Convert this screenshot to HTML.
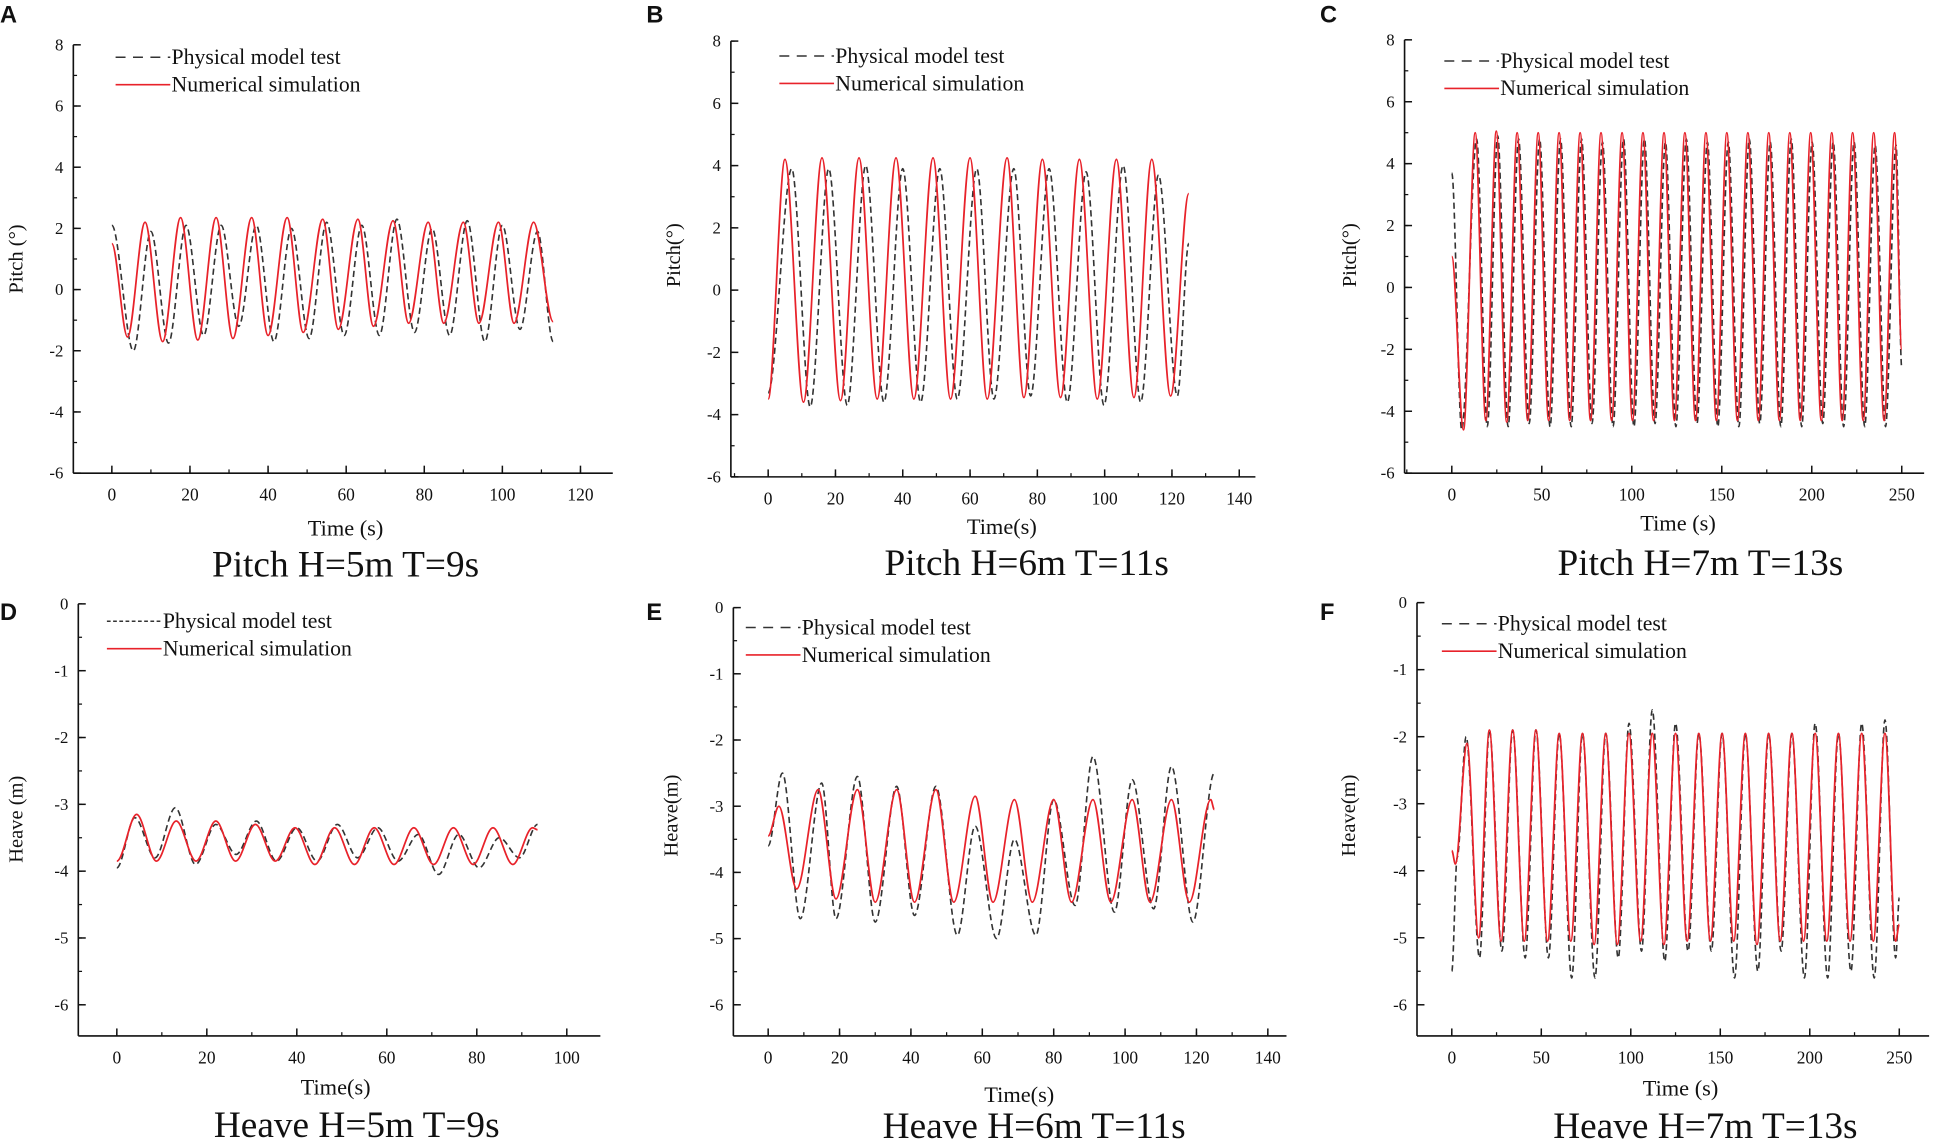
<!DOCTYPE html>
<html><head><meta charset="utf-8"><style>
html,body{margin:0;padding:0;background:#fff;}
svg{display:block;}
text{font-family:"Liberation Serif",serif;fill:#111;}
.lt{font-family:"Liberation Sans",sans-serif;font-weight:bold;}
</style></head>
<body>
<svg id="fig" width="1949" height="1143" viewBox="0 0 1568 918" preserveAspectRatio="none" xmlns="http://www.w3.org/2000/svg"></svg>
<script>
// ---- data arrays (time s, value) of curve extrema ----
const aRedT=[0,4,8.5,13,17.6,22,26.7,31,35.8,40,44.9,49,54,58,63,67,72,76,81,85,90,94,99,103,108,113];
const aRedV=[1.5,-1.55,2.2,-1.7,2.35,-1.65,2.35,-1.6,2.35,-1.5,2.35,-1.4,2.3,-1.3,2.3,-1.2,2.25,-1.1,2.2,-1.1,2.2,-1.1,2.2,-1.1,2.2,-1.05];
const aBlkT=[0,5.5,10,14.5,19,23.5,28,32.5,37,41.5,46,50.5,55,59.5,64,68.5,73,77.5,82,86.5,91,95.5,100,104.5,109,113];
const aBlkV=[2.1,-2.0,1.9,-1.75,2.1,-1.5,2.1,-1.2,2.1,-1.7,2.0,-1.6,2.2,-1.5,2.1,-1.5,2.3,-1.4,2.0,-1.5,2.25,-1.7,2.1,-1.3,1.9,-1.7];

const bRedT=[0,5,10.5,16,21.5,27,32.4,38,43.3,49,54.2,60,65.1,71,76,81.5,86.9,92.5,97.8,103.5,108.7,114,119.6,125];
const bRedV=[-3.5,4.2,-3.6,4.25,-3.55,4.25,-3.5,4.25,-3.5,4.25,-3.5,4.25,-3.5,4.25,-3.45,4.2,-3.45,4.2,-3.5,4.2,-3.45,4.2,-3.4,3.1];
const bBlkT=[0,7,12.5,18,23.5,29,34.4,40,45.3,51,56.2,62,67.1,73,78,83.5,88.9,94.5,99.8,105.5,110.7,116,121.6,125];
const bBlkV=[-3.3,3.9,-3.75,3.9,-3.7,4.0,-3.6,3.9,-3.6,3.9,-3.5,3.9,-3.5,3.9,-3.4,3.9,-3.6,3.8,-3.7,4.0,-3.6,3.7,-3.4,1.5];

const cRedT=[0,6.5,13,18.9,24.7,30.5,36.3,42.2,48,53.8,59.6,65.5,71.3,77.1,82.9,88.8,94.6,100.4,106.2,112.1,117.9,123.7,129.5,135.4,141.2,147,152.8,158.7,164.5,170.3,176.1,182,187.8,193.6,199.4,205.3,211.1,216.9,222.7,228.6,234.4,240.2,246,250];
const cRedV=[1.0,-4.6,5.0,-4.3,5.05,-4.35,5.0,-4.3,5.0,-4.3,5.0,-4.3,5.0,-4.3,5.0,-4.3,5.0,-4.3,5.0,-4.3,5.0,-4.3,5.0,-4.3,5.0,-4.3,5.0,-4.3,5.0,-4.3,5.0,-4.3,5.0,-4.3,5.0,-4.3,5.0,-4.3,5.0,-4.3,5.0,-4.3,5.0,-2.0];
const cBlkT=[0,5.5,13.8,19.7,25.5,31.3,37.1,43,48.8,54.6,60.4,66.3,72.1,77.9,83.7,89.6,95.4,101.2,107,112.9,118.7,124.5,130.3,136.2,142,147.8,153.6,159.5,165.3,171.1,176.9,182.8,188.6,194.4,200.2,206.1,211.9,217.7,223.5,229.4,235.2,241,246.8,250];
const cBlkV=[3.7,-4.6,4.8,-4.5,4.9,-4.5,4.8,-4.4,4.8,-4.5,4.8,-4.5,4.8,-4.4,4.7,-4.5,4.8,-4.5,4.8,-4.4,4.7,-4.5,4.8,-4.4,4.7,-4.5,4.7,-4.5,4.8,-4.4,4.7,-4.5,4.8,-4.5,4.7,-4.4,4.7,-4.5,4.7,-4.5,4.6,-4.5,4.6,-2.6];

const dRedT=[0,4.4,8.8,13.2,17.6,22,26.4,30.8,35.2,39.6,44,48.4,52.8,57.2,61.6,66,70.4,74.8,79.2,83.6,88,92.4,93.5];
const dRedV=[-3.85,-3.15,-3.85,-3.25,-3.85,-3.25,-3.85,-3.3,-3.85,-3.35,-3.9,-3.35,-3.9,-3.35,-3.9,-3.35,-3.9,-3.35,-3.9,-3.35,-3.9,-3.35,-3.38];
const dBlkT=[0,4,8.5,13,17.5,22,26.5,31,35.5,40,44.5,49,53.5,58,62.5,67,71.5,76,80.5,85,89.5,93.5];
const dBlkV=[-3.95,-3.2,-3.8,-3.05,-3.9,-3.3,-3.75,-3.25,-3.85,-3.35,-3.85,-3.3,-3.8,-3.35,-3.85,-3.45,-4.05,-3.45,-3.95,-3.5,-3.8,-3.3];

const eRedT=[0,3,8,14,19,25,30,36,41,47,52,58,63,69,74,80,85,91,96,102,107,113,118,124,125];
const eRedV=[-3.45,-3.0,-4.25,-2.75,-4.4,-2.75,-4.45,-2.75,-4.45,-2.75,-4.45,-2.85,-4.45,-2.9,-4.45,-2.9,-4.45,-2.9,-4.45,-2.9,-4.45,-2.9,-4.45,-2.9,-3.05];
const eBlkT=[0,4,9,15,19,25,30,36,41,47,53,58,64,69,75,80,86,91,97,102,108,113,119,125];
const eBlkV=[-3.6,-2.5,-4.7,-2.65,-4.7,-2.55,-4.75,-2.7,-4.65,-2.7,-4.95,-3.3,-5.0,-3.5,-4.95,-2.9,-4.5,-2.25,-4.6,-2.6,-4.55,-2.4,-4.75,-2.5];

const fRedT=[0,2,8.5,15,21,27.5,34,40.5,47,53.5,60,66.5,73,79.5,86,92.5,99,105.5,112,118.5,125,131.5,138,144.5,151,157.5,164,170.5,177,183.5,190,196.5,203,209.5,216,222.5,229,235.5,242,248,250];
const fRedV=[-3.7,-3.9,-2.1,-5.0,-1.9,-5.05,-1.9,-5.05,-1.9,-5.05,-1.95,-5.05,-1.95,-5.1,-1.95,-5.1,-1.95,-5.05,-1.95,-5.1,-1.95,-5.05,-1.95,-5.05,-1.95,-5.05,-1.95,-5.1,-1.95,-5.05,-1.95,-5.05,-1.95,-5.05,-1.95,-5.05,-1.95,-5.05,-1.95,-5.05,-4.8];
const fBlkT=[0,3,8,15.5,21,28,34,41,47,54,60,67,73,80,86,93,99,106,112,119,125,132,138,145,151,158,164,171,177,184,190,197,203,210,216,223,229,236,242,248,250];
const fBlkV=[-5.5,-3.8,-2.0,-5.3,-1.9,-5.2,-1.9,-5.3,-1.9,-5.3,-1.95,-5.6,-1.95,-5.6,-1.95,-5.3,-1.8,-5.2,-1.6,-5.35,-1.8,-5.2,-1.95,-5.2,-1.95,-5.6,-1.95,-5.5,-1.95,-5.2,-1.95,-5.6,-1.8,-5.6,-1.95,-5.5,-1.8,-5.6,-1.75,-5.3,-4.4];

// x tick label arrays
const xTicks120=[0,20,40,60,80,100,120];
const xTicks140=[0,20,40,60,80,100,120,140];
const xTicks100=[0,20,40,60,80,100];
const xTicks250=[0,50,100,150,200,250];
const yTicksPitch=[8,6,4,2,0,-2,-4,-6];
const yTicksHeave=[0,-1,-2,-3,-4,-5,-6];

const panels=[
 {id:'a',letter:'A',lx:0,ly:18,ax:59,x0px:90,x1px:467,x1v:120,xr:493,xMinor:10,xt:xTicks120,yTop:36,yBot:380,yMax:8,yMin:-6,axBot:380,yt:yTicksPitch,yMinor:1,
  ylab:'Pitch (°)',ylx:18,yly:208,xlab:'Time (s)',xlx:278,xly:430,title:'Pitch H=5m T=9s',tx:278,ty:463,legX:93,legY:46,legDash:'8,6',
  red:[aRedT,aRedV],blk:[aBlkT,aBlkV]},
 {id:'b',letter:'B',lx:520,ly:18,ax:588,x0px:618,x1px:997,x1v:140,xr:1010,xMinor:10,xt:xTicks140,yTop:33,yBot:383,yMax:8,yMin:-6,axBot:383,yt:yTicksPitch,yMinor:1,
  ylab:'Pitch(°)',ylx:547,yly:205,xlab:'Time(s)',xlx:806,xly:429,title:'Pitch H=6m T=11s',tx:826,ty:462,legX:627,legY:45,legDash:'8,6',
  red:[bRedT,bRedV],blk:[bBlkT,bBlkV]},
 {id:'c',letter:'C',lx:1062,ly:18,ax:1130,x0px:1168,x1px:1530,x1v:250,xr:1548,xMinor:25,xt:xTicks250,yTop:32,yBot:380,yMax:8,yMin:-6,axBot:380,yt:yTicksPitch,yMinor:1,
  ylab:'Pitch(°)',ylx:1091,yly:205,xlab:'Time (s)',xlx:1350,xly:426,title:'Pitch H=7m T=13s',tx:1368,ty:462,legX:1162,legY:49,legDash:'8,6',
  red:[cRedT,cRedV],blk:[cBlkT,cBlkV]},
 {id:'d',letter:'D',lx:0,ly:498,ax:63,x0px:94,x1px:456,x1v:100,xr:483,xMinor:10,xt:xTicks100,yTop:485,yBot:807,yMax:0,yMin:-6,axBot:832,yt:yTicksHeave,yMinor:0.5,
  ylab:'Heave (m)',ylx:18,yly:658,xlab:'Time(s)',xlx:270,xly:879,title:'Heave H=5m T=9s',tx:287,ty:913,legX:86,legY:499,legDash:'3,2',
  red:[dRedT,dRedV],blk:[dBlkT,dBlkV]},
 {id:'e',letter:'E',lx:520,ly:498,ax:590,x0px:618,x1px:1020,x1v:140,xr:1035,xMinor:10,xt:xTicks140,yTop:488,yBot:807,yMax:0,yMin:-6,axBot:832,yt:yTicksHeave,yMinor:0.5,
  ylab:'Heave(m)',ylx:545,yly:655,xlab:'Time(s)',xlx:820,xly:885,title:'Heave H=6m T=11s',tx:832,ty:914,legX:600,legY:504,legDash:'8,6',
  red:[eRedT,eRedV],blk:[eBlkT,eBlkV]},
 {id:'f',letter:'F',lx:1062,ly:498,ax:1140,x0px:1168,x1px:1528,x1v:250,xr:1552,xMinor:25,xt:xTicks250,yTop:484,yBot:807,yMax:0,yMin:-6,axBot:832,yt:yTicksHeave,yMinor:0.5,
  ylab:'Heave(m)',ylx:1090,yly:655,xlab:'Time (s)',xlx:1352,xly:880,title:'Heave H=7m T=13s',tx:1372,ty:914,legX:1160,legY:501,legDash:'8,6',
  red:[fRedT,fRedV],blk:[fBlkT,fBlkV]}
];

const NS='http://www.w3.org/2000/svg';
const svg=document.getElementById('fig');
function mk(tag,attrs,parent){const e=document.createElementNS(NS,tag);for(const k in attrs)e.setAttribute(k,attrs[k]);(parent||svg).appendChild(e);return e;}

panels.forEach(p=>{
  const g=mk('g',{});
  
  
  const xs=v=>p.x0px+(p.x1px-p.x0px)*v/p.x1v;
  const ys=v=>p.yTop+(p.yBot-p.yTop)*(p.yMax-v)/(p.yMax-p.yMin);
  const xMinV=(p.ax-p.x0px)/(p.x1px-p.x0px)*p.x1v, xMaxV=(p.xr-p.x0px)/(p.x1px-p.x0px)*p.x1v;
  const letter=mk('text',{x:p.lx,y:p.ly,'font-size':19,class:'lt'},g);letter.textContent=p.letter;
  
  
  const yAxis=mk('line',{x1:p.ax,y1:p.yTop,x2:p.ax,y2:p.axBot,stroke:'#111','stroke-width':1.3},g);
  
  
  const xAxis=mk('line',{x1:p.ax,y1:p.axBot,x2:p.xr,y2:p.axBot,stroke:'#111','stroke-width':1.3},g);
  
  
  for(let v=p.yMin;v<=p.yMax+1e-9;v+=p.yMinor){mk('line',{x1:p.ax,x2:p.ax+3,y1:ys(v),y2:ys(v),stroke:'#111','stroke-width':1},g);}
  p.yt.forEach(v=>{
    mk('line',{x1:p.ax,x2:p.ax+6,y1:ys(v),y2:ys(v),stroke:'#111','stroke-width':1.2},g);
    const t=mk('text',{x:p.ax-8,y:ys(v)+4.5,'font-size':13.5,'text-anchor':'end'},g);t.textContent=v;
    
    
  });
  for(let v=Math.ceil(xMinV/p.xMinor)*p.xMinor;v<=xMaxV;v+=p.xMinor){mk('line',{x1:xs(v),x2:xs(v),y1:p.axBot,y2:p.axBot-3,stroke:'#111','stroke-width':1},g);}
  p.xt.forEach(v=>{
    mk('line',{x1:xs(v),x2:xs(v),y1:p.axBot,y2:p.axBot-6,stroke:'#111','stroke-width':1.2},g);
    const t=mk('text',{x:xs(v),y:p.axBot+22,'font-size':14,'text-anchor':'middle'},g);t.textContent=v;
    
    
  });
  const yl=mk('text',{x:p.ylx,y:p.yly,'font-size':16.5,'text-anchor':'middle',transform:`rotate(-90 ${p.ylx} ${p.yly})`},g);yl.textContent=p.ylab;
  
  
  const xl=mk('text',{x:p.xlx,y:p.xly,'font-size':18,'text-anchor':'middle'},g);xl.textContent=p.xlab;
  
  
  const ti=mk('text',{x:p.tx,y:p.ty,'font-size':30,'text-anchor':'middle'},g);ti.textContent=p.title;
  
  
  function curve(T,V){
    let d='M'+xs(T[0]).toFixed(2)+','+ys(V[0]).toFixed(2);
    for(let i=1;i<T.length;i++){
      const xa=xs(T[i-1]),xb=xs(T[i]),ya=ys(V[i-1]),yb=ys(V[i]);
      d+=` C${(xa+(xb-xa)/3).toFixed(2)},${ya.toFixed(2)} ${(xa+2*(xb-xa)/3).toFixed(2)},${yb.toFixed(2)} ${xb.toFixed(2)},${yb.toFixed(2)}`;
    }
    return d;
  }
  const bl=mk('path',{d:curve(p.blk[0],p.blk[1]),fill:'none',stroke:'#333','stroke-width':1.3,'stroke-dasharray':'5,3'},g);
  
  
  const rd=mk('path',{d:curve(p.red[0],p.red[1]),fill:'none',stroke:'#e8222a','stroke-width':1.4},g);
  
  
  const lg=mk('g',{},g);
  
  
  mk('line',{x1:p.legX,x2:p.legX+44,y1:p.legY,y2:p.legY,stroke:'#333','stroke-width':1.2,'stroke-dasharray':p.legDash},lg);
  const l1=mk('text',{x:p.legX+45,y:p.legY+5.5,'font-size':17.5},lg);l1.textContent='Physical model test';
  
  
  mk('line',{x1:p.legX,x2:p.legX+44,y1:p.legY+22,y2:p.legY+22,stroke:'#e8222a','stroke-width':1.3},lg);
  const l2=mk('text',{x:p.legX+45,y:p.legY+27.5,'font-size':17.5},lg);l2.textContent='Numerical simulation';
  
  
});
</script>
</body></html>
